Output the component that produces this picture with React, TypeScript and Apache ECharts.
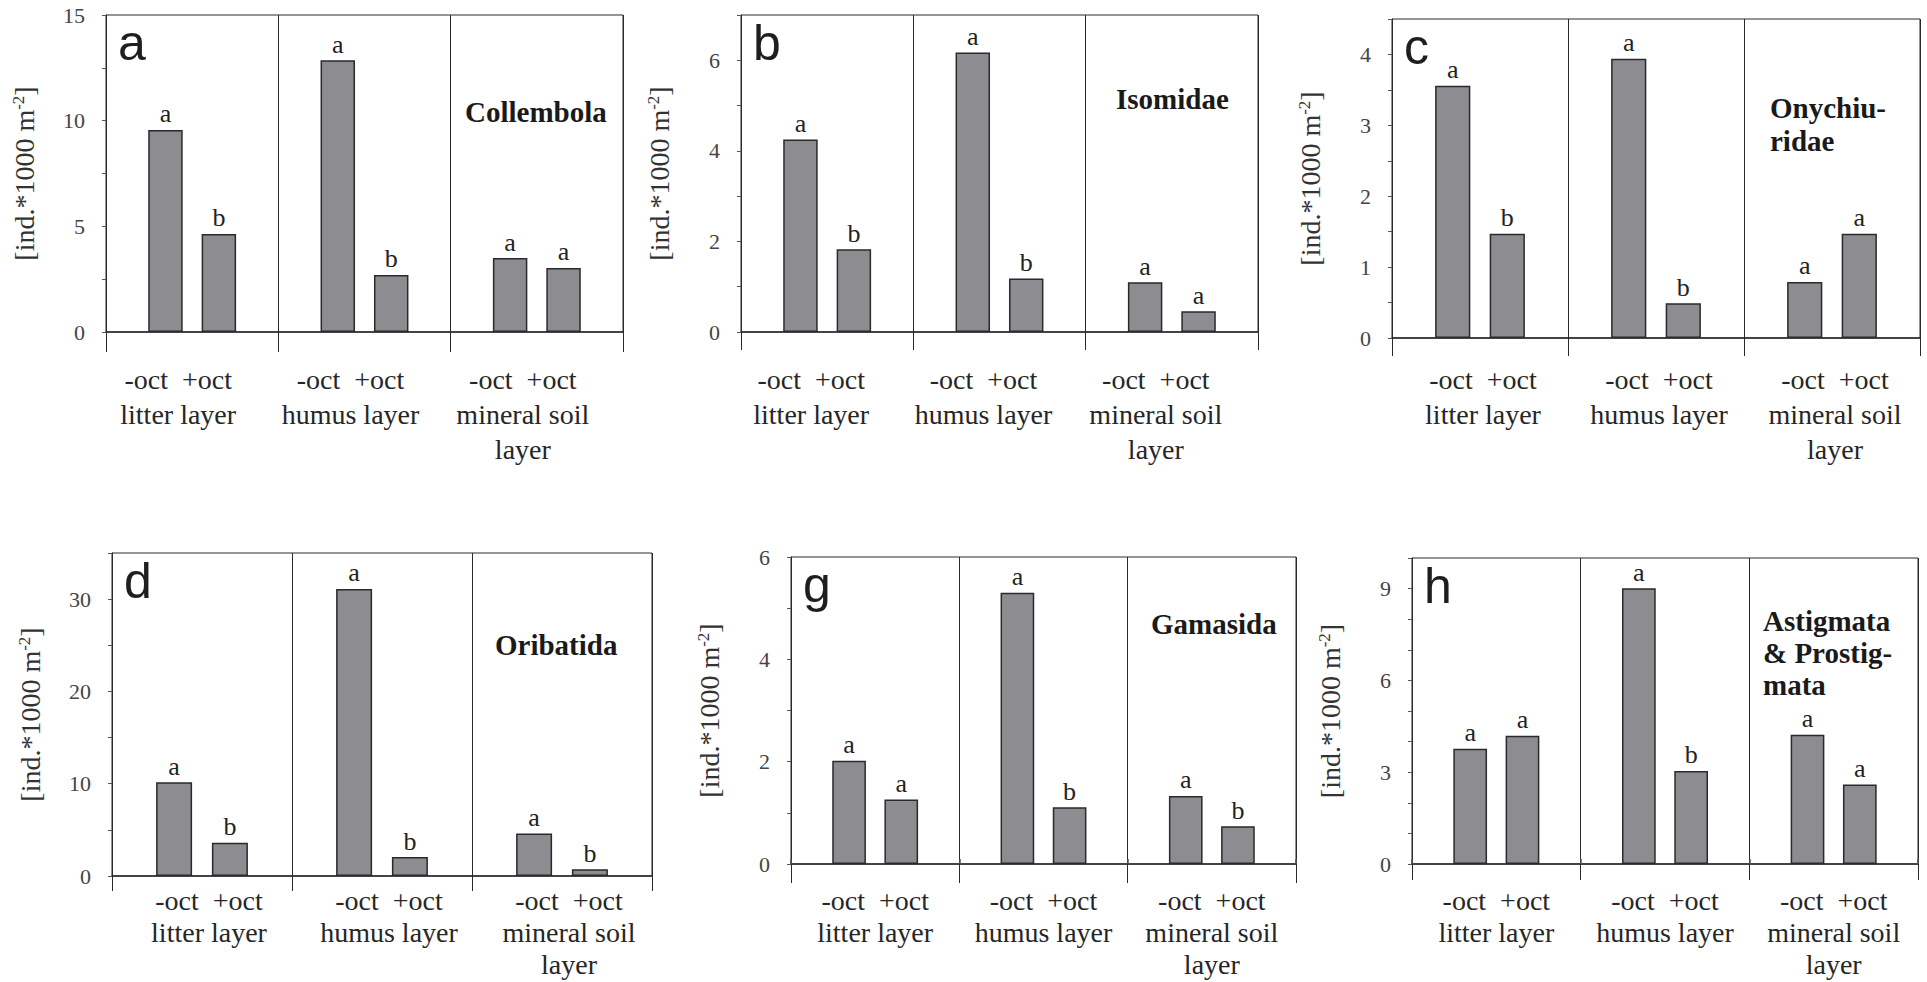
import React, { useEffect, useRef } from "react";
import * as echarts from "echarts";

// ---------- data ----------
const layers = ["litter layer", "humus layer", "mineral soil\nlayer"];
const treatmentLine = "-oct \u00a0+oct";
const yAxisName = "[ind.*1000 m{sup|-2}]";

const panelLetters = ["a", "b", "c", "d", "g", "h"];
const taxa = ["Collembola", "Isomidae", "Onychiu-\nridae", "Oribatida", "Gamasida", "Astigmata\n& Prostig-\nmata"];

// -oct / +oct abundances (ind. * 1000 m^-2) per layer
const collembolaMinus = [9.56, 12.86, 3.5];
const collembolaPlus = [4.64, 2.7, 3.03];
const isomidaeMinus = [4.25, 6.17, 1.1];
const isomidaePlus = [1.83, 1.18, 0.46];
const onychiuridaeMinus = [3.56, 3.94, 0.79];
const onychiuridaePlus = [1.47, 0.49, 1.47];
const oribatidaMinus = [10.15, 31.1, 4.6];
const oribatidaPlus = [3.6, 2.05, 0.72];
const gamasidaMinus = [2.02, 5.3, 1.33];
const gamasidaPlus = [1.26, 1.11, 0.74];
const astigmataMinus = [3.77, 9.01, 4.22];
const astigmataPlus = [4.19, 3.04, 2.6];

// significance letters
const collembolaMinusSig = ["a", "a", "a"];
const collembolaPlusSig = ["b", "b", "a"];
const isomidaeMinusSig = ["a", "a", "a"];
const isomidaePlusSig = ["b", "b", "a"];
const onychiuridaeMinusSig = ["a", "a", "a"];
const onychiuridaePlusSig = ["b", "b", "a"];
const oribatidaMinusSig = ["a", "a", "a"];
const oribatidaPlusSig = ["b", "b", "b"];
const gamasidaMinusSig = ["a", "a", "a"];
const gamasidaPlusSig = ["a", "b", "b"];
const astigmataMinusSig = ["a", "a", "a"];
const astigmataPlusSig = ["a", "b", "a"];

// y axis scales: max, tick step, label step
const yMax = [15, 7, 4.5, 35, 6, 10];
const yStep = [2.5, 1, 0.5, 5, 1, 1];
const yLabelStep = [5, 2, 1, 10, 2, 3];

const minusValues = [collembolaMinus, isomidaeMinus, onychiuridaeMinus, oribatidaMinus, gamasidaMinus, astigmataMinus];
const plusValues = [collembolaPlus, isomidaePlus, onychiuridaePlus, oribatidaPlus, gamasidaPlus, astigmataPlus];
const minusSig = [collembolaMinusSig, isomidaeMinusSig, onychiuridaeMinusSig, oribatidaMinusSig, gamasidaMinusSig, astigmataMinusSig];
const plusSig = [collembolaPlusSig, isomidaePlusSig, onychiuridaePlusSig, oribatidaPlusSig, gamasidaPlusSig, astigmataPlusSig];

// ---------- layout / style ----------
const layout = [
  { left: 106, top: 15, width: 517, height: 317, tickDown: 20, labelMargin: 30, labelLH: 35, labelShift: -14, ghost: false },
  { left: 741, top: 15, width: 517, height: 317, tickDown: 18, labelMargin: 30, labelLH: 35, labelShift: -16, ghost: false },
  { left: 1392, top: 19, width: 528, height: 319, tickDown: 18, labelMargin: 24, labelLH: 35, labelShift: 3, ghost: false },
  { left: 112, top: 553, width: 540, height: 323, tickDown: 15, labelMargin: 8, labelLH: 32, labelShift: 7, ghost: false },
  { left: 791, top: 557, width: 505, height: 307, tickDown: 19, labelMargin: 20, labelLH: 32, labelShift: 0, ghost: true },
  { left: 1412, top: 558, width: 506, height: 306, tickDown: 16, labelMargin: 20, labelLH: 32, labelShift: 0, ghost: true },
];
const titlePos = [
  { x: 465, y: 112, lh: 33 },
  { x: 1116, y: 99, lh: 33 },
  { x: 1770, y: 124, lh: 33 },
  { x: 495, y: 645, lh: 33 },
  { x: 1151, y: 624, lh: 33 },
  { x: 1763, y: 653, lh: 32 },
];

const SERIF = '"Liberation Serif", "Times New Roman", serif';
const SANS = '"Liberation Sans", Arial, sans-serif';
const LINE = "#2a2a2a";
const BAR = "#8c8c91";

function isMajor(v: number, step: number) {
  const r = v / step;
  return Math.abs(r - Math.round(r)) < 1e-6;
}

function buildOption() {
  const grid: any[] = [];
  const xAxis: any[] = [];
  const yAxis: any[] = [];
  const series: any[] = [];
  const graphic: any[] = [];

  layout.forEach((l, i) => {
    grid.push({
      left: l.left,
      top: l.top,
      width: l.width,
      height: l.height,
      containLabel: false,
      outerBoundsMode: "none",
      show: true,
      borderColor: LINE,
      borderWidth: 1,
      backgroundColor: "transparent",
    });
    const shift = l.labelShift;
    xAxis.push({
      type: "category",
      gridIndex: i,
      data: layers,
      position: "bottom",
      axisLine: { show: true, onZero: false, lineStyle: { color: LINE, width: 1.5 } },
      axisTick: { show: true, length: l.tickDown, lineStyle: { color: LINE, width: 1 } },
      splitLine: { show: true, interval: 0, lineStyle: { color: LINE, width: 1 } },
      axisLabel: {
        interval: 0,
        margin: l.labelMargin,
        fontFamily: SERIF,
        fontSize: 28,
        lineHeight: l.labelLH,
        color: "#262626",
        padding: shift < 0 ? [0, -2 * shift, 0, 0] : [0, 0, 0, 2 * shift],
        formatter: (v: string) => treatmentLine + "\n" + v,
      },
    });
    yAxis.push({
      type: "value",
      gridIndex: i,
      min: 0,
      max: yMax[i],
      interval: yStep[i],
      axisLine: { show: true, lineStyle: { color: LINE, width: 1 } },
      axisTick: { show: true, length: 4, lineStyle: { color: "#555" } },
      splitLine: { show: false },
      axisLabel: {
        margin: 21,
        fontFamily: SERIF,
        fontSize: 22,
        color: "#444",
        formatter: (v: number) => (isMajor(v, yLabelStep[i]) ? String(v) : ""),
      },
      name: yAxisName,
      nameLocation: "middle",
      nameRotate: 90,
      nameGap: 68,
      nameTextStyle: {
        fontFamily: SERIF,
        fontSize: 28,
        color: "#333",
        rich: {
          sup: { fontFamily: SERIF, fontSize: 17, color: "#333", verticalAlign: "top" },
        },
      },
    });
  });

  // faint tick marks left above panels g and h
  layout.forEach((l, i) => {
    if (!l.ghost) return;
    xAxis.push({
      type: "category",
      gridIndex: i,
      data: layers,
      position: "top",
      offset: 19,
      axisLine: { show: true, lineStyle: { color: "#fff", opacity: 0 } },
      axisTick: { show: true, length: 5, lineStyle: { color: "#555", width: 1.5 } },
      axisLabel: { show: false },
      splitLine: { show: false },
    });
  });

  layout.forEach((l, i) => {
    const common = {
      type: "bar",
      xAxisIndex: i,
      yAxisIndex: i,
      barWidth: "20%",
      barGap: "55%",
      itemStyle: { color: BAR, borderColor: LINE, borderWidth: 1.5 },
    };
    series.push({
      ...common,
      name: "-oct",
      data: minusValues[i],
      label: {
        show: true,
        position: "top",
        distance: 3,
        fontFamily: SERIF,
        fontSize: 26,
        color: "#222",
        formatter: (p: any) => minusSig[i][p.dataIndex],
      },
    });
    series.push({
      ...common,
      name: "+oct",
      data: plusValues[i],
      label: {
        show: true,
        position: "top",
        distance: 3,
        fontFamily: SERIF,
        fontSize: 26,
        color: "#222",
        formatter: (p: any) => plusSig[i][p.dataIndex],
      },
    });

    graphic.push({
      type: "text",
      x: l.left + 12,
      y: l.top + 28,
      style: {
        text: panelLetters[i],
        font: `50px ${SANS}`,
        fill: "#1e1e1e",
        align: "left",
        verticalAlign: "middle",
      },
    });
    const t = titlePos[i];
    graphic.push({
      type: "text",
      x: t.x,
      y: t.y,
      style: {
        text: taxa[i],
        font: `bold 29px ${SERIF}`,
        fill: "#1a1a1a",
        align: "left",
        verticalAlign: "middle",
        lineHeight: t.lh,
      },
    });
  });

  return {
    animation: false,
    backgroundColor: "#ffffff",
    grid,
    xAxis,
    yAxis,
    series,
    graphic,
  };
}

export default function App() {
  const ref = useRef<HTMLDivElement>(null);
  useEffect(() => {
    if (!ref.current) return;
    const chart = echarts.init(ref.current, null, { renderer: "svg" });
    chart.setOption(buildOption() as any);
    return () => chart.dispose();
  }, []);
  return (
    <div
      ref={ref}
      style={{ position: "fixed", left: 0, top: 0, width: "1927px", height: "982px", background: "#fff" }}
    />
  );
}
